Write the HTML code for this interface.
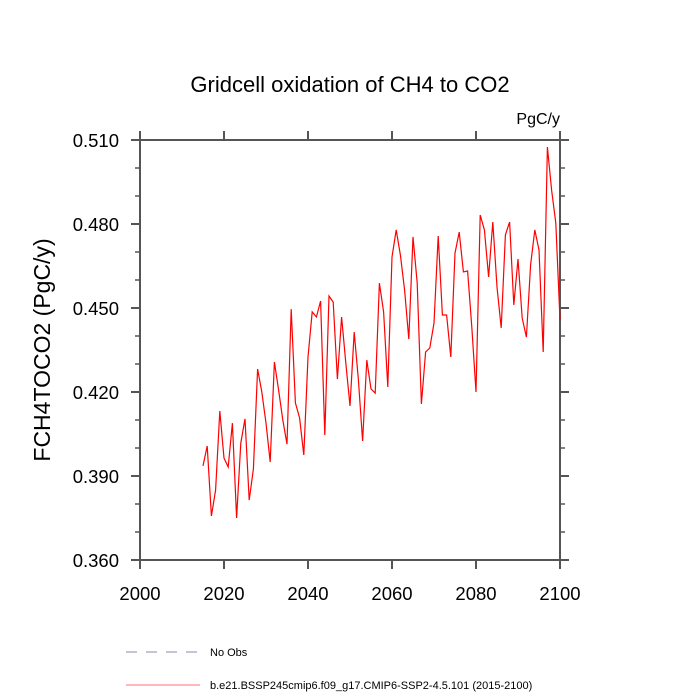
<!DOCTYPE html>
<html><head><meta charset="utf-8"><style>
html,body{margin:0;padding:0;background:#fff;}
svg{display:block;font-family:"Liberation Sans",sans-serif;}
</style></head><body>
<svg id="chart" width="700" height="700" viewBox="0 0 700 700">
<text x="350" y="92" text-anchor="middle" font-size="22">Gridcell oxidation of CH4 to CO2</text>
<text x="560" y="124" text-anchor="end" font-size="16">PgC/y</text>
<text transform="translate(50,350) rotate(-90)" text-anchor="middle" font-size="23">FCH4TOCO2  (PgC/y)</text>
<g id="axes"></g>
<path id="series" fill="none" stroke="#ff0000" stroke-width="1.2"/>
<g>
<line x1="126" y1="652" x2="200" y2="652" stroke="#8888aa" stroke-dasharray="11,9"/>
<text x="210" y="656" font-size="11">No Obs</text>
<line x1="126" y1="685" x2="200" y2="685" stroke="#ff7070"/>
<text x="210" y="689" font-size="11">b.e21.BSSP245cmip6.f09_g17.CMIP6-SSP2-4.5.101 (2015-2100)</text>
</g>
</svg>
<script>
const startYear = 2015;
const values = [0.3936,0.4007,0.3757,0.385,0.4132,0.3964,0.3932,0.4089,0.375,0.4018,
0.4104,0.3814,0.3925,0.4282,0.420,0.4089,0.395,0.4307,0.4207,0.410,
0.4014,0.4496,0.4161,0.4107,0.3975,0.4325,0.4486,0.4468,0.4525,0.4046,
0.4543,0.4521,0.4246,0.4468,0.4304,0.415,0.4414,0.4243,0.4025,0.4314,
0.4211,0.4196,
0.4589,0.4486,0.4218,0.4682,0.4779,0.4689,0.4564,0.4389,0.4754,0.4589,
0.4157,0.4343,0.4357,0.4446,0.4757,0.4475,0.4475,0.4325,0.4696,0.4771,
0.4629,0.4632,0.4432,0.420,0.4832,0.4779,0.4611,0.4807,0.4575,0.4429,
0.4761,0.4807,0.4511,0.4675,0.4464,0.4396,0.4654,0.4779,0.4707,0.4343,
0.5075,0.4921,0.4804,0.4457];
const xTicks = [2000,2020,2040,2060,2080,2100];
const yTicks = [0.360,0.390,0.420,0.450,0.480,0.510];
const yMinor = [0.37,0.38,0.40,0.41,0.43,0.44,0.46,0.47,0.49,0.50];

const L=140,R=560,T=140,B=560;
const xS=v=>L+(v-2000)/100*(R-L);
const yS=v=>B-(v-0.36)/0.15*(B-T);
const NS="http://www.w3.org/2000/svg";
const ax=document.getElementById('axes');
function mk(tag,a){const e=document.createElementNS(NS,tag);for(const k in a)e.setAttribute(k,a[k]);ax.appendChild(e);return e;}
const frame=mk('rect',{x:L,y:T,width:R-L,height:B-T,fill:'none',stroke:'#555',"stroke-width":2});


xTicks.forEach(t=>{
  const x=xS(t);
  const tk=mk('line',{x1:x,y1:B,x2:x,y2:B+9,stroke:'#555',"stroke-width":2});
  
  
  const tk2=mk('line',{x1:x,y1:T,x2:x,y2:T-9,stroke:'#555',"stroke-width":2});
  
  
  const tx=mk('text',{x:x,y:B+40,"text-anchor":"middle","font-size":18.5});
  tx.textContent=t;
  
  
});
yTicks.forEach(t=>{
  const y=yS(t);
  const tk=mk('line',{x1:L-9,y1:y,x2:L,y2:y,stroke:'#555',"stroke-width":2});
  
  
  const tk2=mk('line',{x1:R,y1:y,x2:R+9,y2:y,stroke:'#555',"stroke-width":2});
  
  
  const tx=mk('text',{x:L-21,y:y+7,"text-anchor":"end","font-size":18.5});
  tx.textContent=t.toFixed(3);
  
  
});
yMinor.forEach(t=>{
  const y=yS(t);
  const a=mk('line',{x1:L-5,y1:y,x2:L,y2:y,stroke:'#555',"stroke-width":1.5});
  
  
  const b=mk('line',{x1:R,y1:y,x2:R+5,y2:y,stroke:'#555',"stroke-width":1.5});
  
  
});
document.getElementById('series').setAttribute('d',
  values.map((v,i)=>(i?'L':'M')+xS(startYear+i).toFixed(1)+','+yS(v).toFixed(1)).join(' '));
</script>
</body></html>
